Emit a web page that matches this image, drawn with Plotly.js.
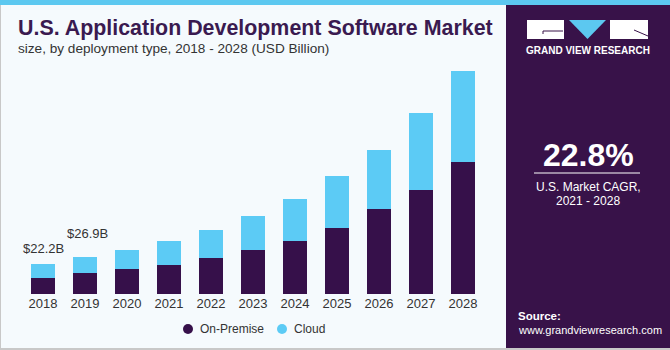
<!DOCTYPE html>
<html>
<head>
<meta charset="utf-8">
<script src="https://cdn.plot.ly/plotly-3.0.1.min.js"></script>
<style>
html,body{margin:0;padding:0;background:#f5fafd;}
#chart{width:670px;height:350px;}
</style>
</head>
<body>
<div id="chart"></div>
<script>
// ---- data ----
const years = ['2018','2019','2020','2021','2022','2023','2024','2025','2026','2027','2028'];
const onPremise = [11.5, 15.7, 18.4, 21.3, 26.7, 32.6, 39.2, 48.8, 62.5, 76.5, 97.3];
const cloud     = [10.7, 11.2, 14.2, 17.9, 20.6, 25.0, 30.7, 38.0, 43.4, 56.3, 66.7];
const seriesNames = ['On-Premise', 'Cloud'];
const valueLabels = ['$22.2B', '$26.9B'];
const titleText = 'U.S. Application Development Software Market';
const subtitleText = 'size, by deployment type, 2018 - 2028 (USD Billion)';
const cagrValue = '22.8%';
const cagrText = ['U.S. Market CAGR,', '2021 - 2028'];

// ---- styles ----
const C_ON = '#36104a';
const C_CLOUD = '#5ccbf5';
const C_PANEL = '#381249';
const W = 670, H = 350;
const M = {l: 22, r: 186, t: 60, b: 56, autoexpand: false};
const PW = W - M.l - M.r, PH = H - M.t - M.b;
const px = x => (x - M.l) / PW;
const py = y => (H - M.b - y) / PH;
const FONT = '"Liberation Sans", Arial, sans-serif';

const totals = onPremise.map((v, i) => v + cloud[i]);
const seriesColors = [C_ON, C_CLOUD];

const traces = [
  {type: 'bar', x: years, y: onPremise, name: seriesNames[0], marker: {color: C_ON}, showlegend: false, hoverinfo: 'y'},
  {type: 'bar', x: years, y: cloud, name: seriesNames[1], marker: {color: C_CLOUD}, showlegend: false, hoverinfo: 'y'}
];

const gradSvg = '<svg xmlns="http://www.w3.org/2000/svg" width="164" height="75" viewBox="0 0 164 75">' +
  '<defs><linearGradient id="g" x1="0" y1="0" x2="0" y2="1">' +
  '<stop offset="0" stop-color="#381249" stop-opacity="0"/>' +
  '<stop offset="0.25" stop-color="#4a4b8a" stop-opacity="0.8"/>' +
  '<stop offset="1" stop-color="#4c8dcf"/></linearGradient></defs>' +
  '<rect width="164" height="75" fill="url(#g)"/>' +
  '<g stroke="#9fc6ee" stroke-opacity="0.35" stroke-width="0.6" fill="none">' +
  '<path d="M0 12 L164 10"/><path d="M0 20 L164 18"/><path d="M0 30 L164 27"/><path d="M0 42 L164 38"/><path d="M0 56 L164 52"/><path d="M0 70 L164 68"/>' +
  '<path d="M10 8 L0 75"/><path d="M30 8 L18 75"/><path d="M50 8 L40 75"/><path d="M70 8 L64 75"/><path d="M90 8 L88 75"/><path d="M110 8 L112 75"/><path d="M130 8 L136 75"/><path d="M150 8 L160 75"/>' +
  '</g></svg>';
const gradUri = 'data:image/svg+xml;base64,' + btoa(gradSvg);

const legendDotX = [188, 282];
const legendY = 329;

const shapes = [
  {type: 'rect', xref: 'paper', yref: 'paper', x0: px(506), x1: px(670), y0: py(0), y1: py(350), fillcolor: C_PANEL, line: {width: 0}, layer: 'below'},
  {type: 'rect', xref: 'paper', yref: 'paper', x0: px(0), x1: px(670), y0: py(0), y1: py(5), fillcolor: '#5cc8f0', line: {width: 0}},
  {type: 'line', xref: 'paper', yref: 'paper', x0: px(0.5), x1: px(0.5), y0: py(5), y1: py(350), line: {color: '#c8c8c8', width: 1}},
  {type: 'rect', xref: 'paper', yref: 'paper', x0: px(0), x1: px(670), y0: py(348), y1: py(350), fillcolor: '#c8c8c8', line: {width: 0}},
  {type: 'rect', xref: 'paper', yref: 'paper', x0: px(527), x1: px(564), y0: py(20), y1: py(39), fillcolor: '#ffffff', line: {width: 0}},
  {type: 'path', xref: 'paper', yref: 'paper', path: `M${px(543)},${py(34)} L${px(543)},${py(31)} L${px(563)},${py(31)}`, line: {color: C_PANEL, width: 1}},
  {type: 'path', xref: 'paper', yref: 'paper', path: `M${px(569)},${py(20)} L${px(606)},${py(20)} L${px(587.5)},${py(39)} Z`, fillcolor: '#5cc8f0', line: {width: 0}},
  {type: 'rect', xref: 'paper', yref: 'paper', x0: px(610), x1: px(648), y0: py(20), y1: py(39), fillcolor: '#ffffff', line: {width: 0}},
  {type: 'path', xref: 'paper', yref: 'paper', path: `M${px(634)},${py(30)} L${px(648)},${py(36)}`, line: {color: C_PANEL, width: 1}},
  {type: 'line', xref: 'paper', yref: 'paper', x0: px(534), x1: px(640), y0: py(173), y1: py(173), line: {color: '#ffffff', width: 1}}
];
seriesNames.forEach((n, i) => {
  shapes.push({type: 'circle', xref: 'paper', yref: 'paper', x0: px(legendDotX[i] - 5), x1: px(legendDotX[i] + 5), y0: py(legendY - 5), y1: py(legendY + 5), fillcolor: seriesColors[i], line: {width: 0}});
});

const images = [
  {source: gradUri, xref: 'paper', yref: 'paper', x: px(506), y: py(273), sizex: 164 / PW, sizey: 75 / PH, xanchor: 'left', yanchor: 'top', sizing: 'stretch', layer: 'below'}
];

const annotations = [
  {xref: 'paper', yref: 'paper', x: px(16), y: py(28), xanchor: 'left', yanchor: 'middle', text: '<b>' + titleText + '</b>', showarrow: false, font: {family: FONT, size: 21.4, color: '#3a1a50'}},
  {xref: 'paper', yref: 'paper', x: px(16), y: py(49), xanchor: 'left', yanchor: 'middle', text: subtitleText, showarrow: false, font: {family: FONT, size: 13.6, color: '#333333'}},
  {x: 0, y: totals[0], yanchor: 'middle', yshift: 15, xshift: 0, text: valueLabels[0], showarrow: false, font: {family: FONT, size: 13, color: '#333333'}},
  {x: 1, y: totals[1], yanchor: 'middle', yshift: 24, xshift: 2, text: valueLabels[1], showarrow: false, font: {family: FONT, size: 13, color: '#333333'}},
  {xref: 'paper', yref: 'paper', x: px(587.5), y: py(51), xanchor: 'center', yanchor: 'middle', text: '<b>GRAND VIEW RESEARCH</b>', showarrow: false, font: {family: FONT, size: 10, color: '#ffffff'}},
  {xref: 'paper', yref: 'paper', x: px(588), y: py(155), xanchor: 'center', yanchor: 'middle', text: '<b>' + cagrValue + '</b>', showarrow: false, font: {family: FONT, size: 32, color: '#ffffff'}},
  {xref: 'paper', yref: 'paper', x: px(588), y: py(186.5), xanchor: 'center', yanchor: 'middle', text: cagrText[0], showarrow: false, font: {family: FONT, size: 12, color: '#ffffff'}},
  {xref: 'paper', yref: 'paper', x: px(588), y: py(201), xanchor: 'center', yanchor: 'middle', text: cagrText[1], showarrow: false, font: {family: FONT, size: 12, color: '#ffffff'}},
  {xref: 'paper', yref: 'paper', x: px(516), y: py(316), xanchor: 'left', yanchor: 'middle', text: '<b>Source:</b>', showarrow: false, font: {family: FONT, size: 11.5, color: '#ffffff'}},
  {xref: 'paper', yref: 'paper', x: px(516), y: py(330), xanchor: 'left', yanchor: 'middle', text: 'www.grandviewresearch.com', showarrow: false, font: {family: FONT, size: 11, color: '#ffffff'}}
];
seriesNames.forEach((n, i) => {
  annotations.push({xref: 'paper', yref: 'paper', x: px(legendDotX[i] + 10), y: py(legendY), xanchor: 'left', yanchor: 'middle', text: n, showarrow: false, font: {family: FONT, size: 12, color: '#333333'}});
});

const layout = {
  width: W, height: H,
  margin: M,
  barmode: 'stack',
  bargap: 0.43,
  paper_bgcolor: '#f5fafd',
  plot_bgcolor: 'rgba(0,0,0,0)',
  font: {family: FONT, size: 13, color: '#333333'},
  xaxis: {type: 'category', categoryorder: 'array', categoryarray: years, range: [-0.5, years.length - 0.5], showgrid: false, zeroline: false, showline: false, ticks: '', tickfont: {family: FONT, size: 13, color: '#333333'}, fixedrange: true, automargin: false},
  yaxis: {visible: false, range: [0, PH / 1.36], showgrid: false, zeroline: false, fixedrange: true},
  showlegend: false,
  shapes: shapes,
  images: images,
  annotations: annotations
};

Plotly.newPlot('chart', traces, layout, {displayModeBar: false, staticPlot: true});
</script>
</body>
</html>
